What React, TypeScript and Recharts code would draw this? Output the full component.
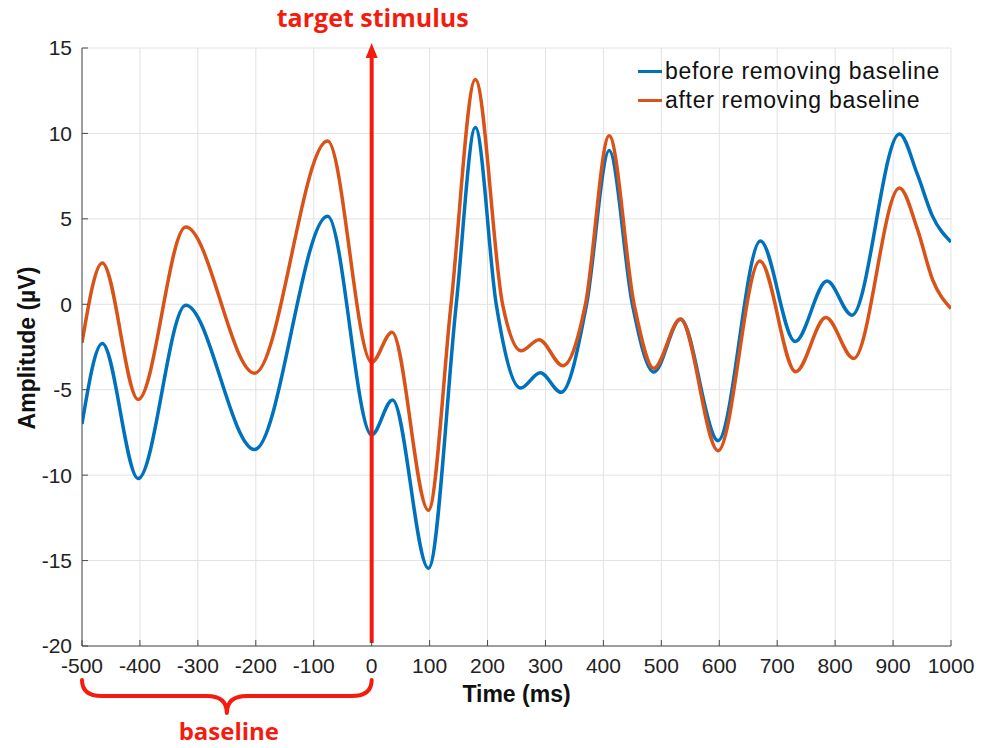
import React from "react";
import {
  LineChart,
  Line,
  XAxis,
  YAxis,
  CartesianGrid,
  ReferenceLine,
  ReferenceArea,
} from "recharts";

// ---- data ----
const xTicks = [-500, -400, -300, -200, -100, 0, 100, 200, 300, 400, 500, 600, 700, 800, 900, 1000];
const yTicks = [-20, -15, -10, -5, 0, 5, 10, 15];

const beforeTimes = [-500, -465, -403, -321, -202, -76, 0, 36, 98, 146, 179, 215, 257, 291, 327, 371, 410, 450, 487, 533, 598, 671, 731, 786, 829, 911, 942, 968, 1000];
const beforeValues = [-7.0, -2.3, -10.2, -0.05, -8.5, 5.15, -7.65, -5.6, -15.45, 0, 10.35, 0, -4.9, -4.0, -5.15, 0, 9.0, 0, -3.97, -0.88, -7.98, 3.7, -2.18, 1.36, -0.64, 9.97, 7.6, 5.16, 3.65];

const afterTimes = [-500, -465, -403, -321, -202, -76, 0, 35, 98, 137, 179, 226, 258, 289, 330, 369, 410, 453, 487, 533, 598, 670, 732, 784, 832, 911, 942, 968, 1000];
const afterValues = [-2.25, 2.42, -5.57, 4.52, -4.03, 9.55, -3.4, -1.63, -12.05, 0, 13.15, 0, -2.72, -2.07, -3.6, 0, 9.86, 0, -3.75, -0.86, -8.57, 2.53, -3.95, -0.78, -3.17, 6.81, 4.4, 1.46, -0.25];

const seriesNames = ["before removing baseline", "after removing baseline"];
const stimulusLabel = "target stimulus";
const baselineLabel = "baseline";
const xLabel = "Time (ms)";
const yLabel = "Amplitude (\u00b5V)";
const stimulusTime = 0;
const baselineStart = -500;
const baselineEnd = 0;

const beforeData = beforeTimes.map((t, i) => ({ t, v: beforeValues[i] }));
const afterData = afterTimes.map((t, i) => ({ t, v: afterValues[i] }));

// ---- styles ----
const BLUE = "#0072BD";
const ORANGE = "#D95319";
const RED = "#F41C0E";
const AXIS = "#4a4a4a";
const FONT = "'Liberation Sans', Arial, Helvetica, sans-serif";
const RED_FONT = "'Open Sans', 'Noto Sans', sans-serif";

const XTick = (props: any) => {
  const { x, y, payload } = props;
  return (
    <g>
      <line x1={x} x2={x} y1={y - 12} y2={y - 18} stroke={AXIS} strokeWidth={1} />
      <text x={x} y={y} dy="0.71em" textAnchor="middle" fontFamily={FONT} fontSize={21} fill="#222">
        {payload.value}
      </text>
    </g>
  );
};

const YTick = (props: any) => {
  const { x, y, payload } = props;
  return (
    <g>
      <line x1={x + 10} x2={x + 16} y1={y} y2={y} stroke={AXIS} strokeWidth={1} />
      <text x={x} y={y} dy="0.355em" textAnchor="end" fontFamily={FONT} fontSize={21} fill="#222">
        {payload.value}
      </text>
    </g>
  );
};

const StimulusShape = (props: any) => {
  const { x1, y1, y2 } = props;
  const top = Math.min(y1, y2);
  const bottom = Math.max(y1, y2);
  return (
    <g>
      <line x1={x1} x2={x1} y1={bottom - 3} y2={top + 8} stroke={RED} strokeWidth={4} />
      <polygon points={`${x1},${top - 5} ${x1 - 6},${top + 10} ${x1 + 6},${top + 10}`} fill={RED} />
      <text x={x1 + 1} y={top - 21} textAnchor="middle" fontFamily={RED_FONT} fontWeight={700} fontSize={25} fill={RED}>
        {stimulusLabel}
      </text>
    </g>
  );
};

const BraceShape = (props: any) => {
  const { x, y, width, height } = props;
  const x0 = x;
  const x1 = x + width;
  const cx = x + width / 2;
  const base = y + height;
  const t = base + 34;
  const h = base + 50;
  const c = base + 67;
  const r = 20;
  const d = `M ${x0} ${t} Q ${x0} ${h} ${x0 + r} ${h} L ${cx - r} ${h} Q ${cx} ${h} ${cx} ${c} Q ${cx} ${h} ${cx + r} ${h} L ${x1 - r} ${h} Q ${x1} ${h} ${x1} ${t}`;
  return (
    <g>
      <path d={d} fill="none" stroke={RED} strokeWidth={4} strokeLinejoin="round" strokeLinecap="round" />
      <text x={cx + 2} y={base + 94} textAnchor="middle" fontFamily={RED_FONT} fontWeight={700} fontSize={24} fill={RED}>
        {baselineLabel}
      </text>
    </g>
  );
};

const XLabel = (props: any) => {
  const vb = props.viewBox || {};
  return (
    <text x={vb.x + vb.width / 2} y={vb.y + 56} textAnchor="middle" fontFamily={FONT} fontWeight={700} fontSize={23} fill="#111">
      {xLabel}
    </text>
  );
};

const YLabel = (props: any) => {
  const vb = props.viewBox || {};
  const cx = vb.x + 35;
  const cy = vb.y + vb.height / 2 + 1;
  return (
    <text x={cx} y={cy} textAnchor="middle" transform={`rotate(-90, ${cx}, ${cy})`} fontFamily={FONT} fontWeight={700} fontSize={23} fill="#111">
      {yLabel}
    </text>
  );
};

export default function App() {
  const colors = [BLUE, ORANGE];
  return (
    <div style={{ position: "absolute", left: 0, top: 0, width: 988, height: 748, background: "#fff" }}>
      <LineChart width={988} height={748} margin={{ top: 48, right: 37, bottom: 0, left: 0 }}>
        <CartesianGrid stroke="#e2e2e2" strokeWidth={1} />
        <XAxis
          type="number"
          dataKey="t"
          domain={[-500, 1000]}
          ticks={xTicks}
          height={102}
          tickSize={0}
          tickMargin={12}
          tick={<XTick />}
          tickLine={false}
          axisLine={{ stroke: AXIS, strokeWidth: 1 }}
          allowDataOverflow
          label={{ content: <XLabel /> } as any}
        />
        <YAxis
          type="number"
          domain={[-20, 15]}
          ticks={yTicks}
          width={82}
          tickSize={0}
          tickMargin={10}
          tick={<YTick />}
          tickLine={false}
          axisLine={{ stroke: AXIS, strokeWidth: 1 }}
          allowDataOverflow
          label={{ content: <YLabel /> } as any}
        />
        <Line data={beforeData} dataKey="v" type="monotone" stroke={BLUE} strokeWidth={3.5} dot={false} activeDot={false} isAnimationActive={false} name={seriesNames[0]} />
        <Line data={afterData} dataKey="v" type="monotone" stroke={ORANGE} strokeWidth={3.5} dot={false} activeDot={false} isAnimationActive={false} name={seriesNames[1]} />
        <ReferenceArea x1={baselineStart} x2={baselineEnd} ifOverflow="visible" shape={(p: any) => <BraceShape {...p} />} />
        <ReferenceLine x={stimulusTime} ifOverflow="visible" shape={(p: any) => <StimulusShape {...p} />} />
      </LineChart>
      <div
        style={{
          position: "absolute",
          left: 638,
          top: 57,
          fontFamily: FONT,
          fontSize: 23,
          letterSpacing: 0.7,
          color: "#111",
          lineHeight: "29px",
        }}
      >
        {seriesNames.map((n, i) => (
          <div key={n} style={{ display: "flex", alignItems: "center", whiteSpace: "nowrap" }}>
            <span style={{ display: "inline-block", width: 24, height: 3.5, background: colors[i], marginRight: 3 }} />
            <span>{n}</span>
          </div>
        ))}
      </div>
    </div>
  );
}
